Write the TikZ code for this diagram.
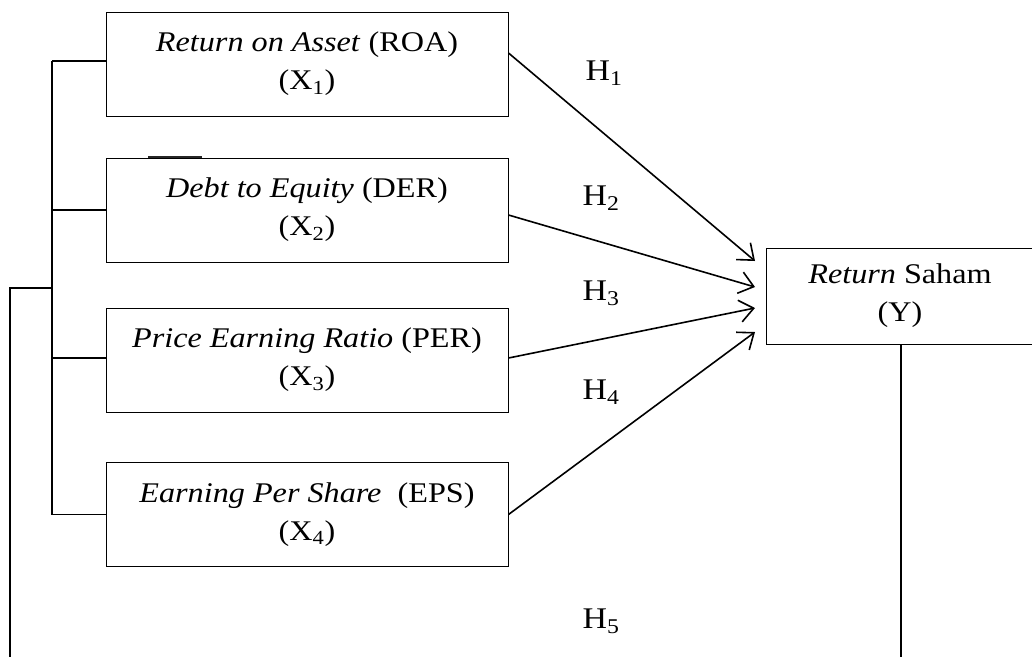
\documentclass[tikz,border=0pt]{standalone}
\usepackage{fontspec}
\setmainfont{Liberation Serif}
\usetikzlibrary{arrows.meta,calc}

% text in this diagram is set slightly wide
\newcommand{\wide}[1]{\scalebox{1.13}[1]{#1}}

\tikzset{
  varbox/.style={draw, line width=1pt, minimum width=402pt, minimum height=104pt,
    inner sep=0pt, align=center, font=\fontsize{28.5}{38}\selectfont},
  link/.style={line width=1.6pt},
  effect/.style={line width=1.6pt, -{Straight Barb[length=14pt,width=22pt,line width=1.6pt]}},
  hyp/.style={font=\fontsize{30}{32}\selectfont, inner sep=0pt}
}

\begin{document}
\begin{tikzpicture}[x=1pt, y=-1pt]
  \useasboundingbox (0,0) rectangle (1032,657);

  % independent variables
  \node[varbox] (x1) at (307,64)  {\wide{\textit{Return on Asset} (ROA)}\\\wide{(X\textsubscript{1})}};
  \node[varbox] (x2) at (307,210) {\wide{\textit{Debt to Equity} (DER)}\\\wide{(X\textsubscript{2})}};
  \node[varbox] (x3) at (307,360) {\wide{\textit{Price Earning Ratio} (PER)}\\\wide{(X\textsubscript{3})}};
  \node[varbox] (x4) at (307,514.5) {\wide{\textit{Earning Per Share}\ \ (EPS)}\\\wide{(X\textsubscript{4})}};

  % dependent variable
  \node[varbox, minimum width=268pt, minimum height=96pt] (yv) at (900,296) {\wide{\textit{Return} Saham}\\\wide{(Y)}};

  % short rule above the second box
  \draw[line width=1.4pt, black!85] (148,157) -- (202,157);

  % arrow tips next to the dependent variable
  \coordinate (t1) at (755,261);
  \coordinate (t2) at (755,287);
  \coordinate (t3) at (755,308);
  \coordinate (t4) at (755,332);

  \draw[effect] ($(x1.east)+(0,-11)$) -- (t1);
  \draw[effect] ($(x2.east)+(0,5)$)   -- (t2);
  \draw[effect] ($(x3.east)+(0,-2)$)  -- (t3);
  \draw[effect] (x4.east)             -- (t4);

  % bracket joining the independent variables
  \coordinate (bt) at (52,61);
  \coordinate (bb) at (52,514.5);
  \draw[link] (bt) -- (bb);
  \draw[link] ($(x1.west)+(0,-3)$) -- (bt);
  \draw[link] (x2.west) -- (x2.west -| bt);
  \draw[link] ($(x3.west)+(0,-2)$) -- ($(x3.west -| bt)+(0,-2)$);
  \draw[link] (x4.west) -- (bb);

  % simultaneous path (H5)
  \coordinate (oj) at (52,288);
  \coordinate (oc) at (10,288);
  \coordinate (ob) at (10,657);
  \coordinate (yb) at (901,657);
  \draw[link] (oj) -- (oc) -- (ob);
  \draw[link] (yv.south -| yb) -- (yb);

  % hypothesis labels
  \node[hyp] (h1) at (604,73)  {\wide{H\textsubscript{1}}};
  \node[hyp] (h2) at (601,198) {\wide{H\textsubscript{2}}};
  \node[hyp] (h3) at (601,293) {\wide{H\textsubscript{3}}};
  \node[hyp] (h4) at (601,392) {\wide{H\textsubscript{4}}};
  \node[hyp] (h5) at (601,621) {\wide{H\textsubscript{5}}};
\end{tikzpicture}
\end{document}
